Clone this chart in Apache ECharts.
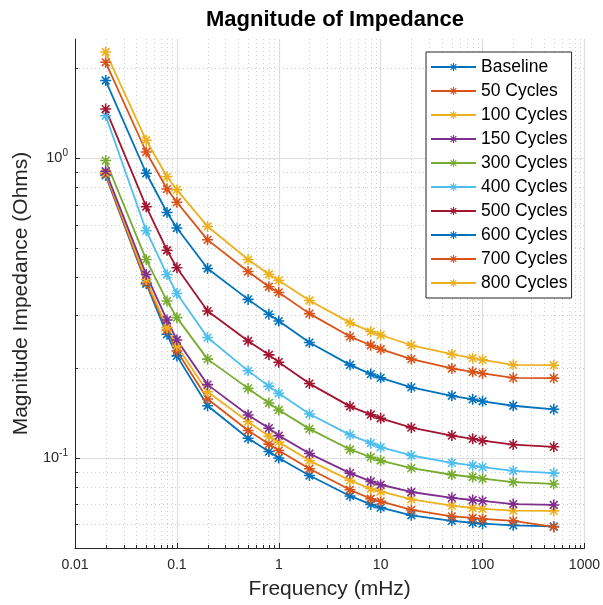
<!DOCTYPE html>
<html>
<head>
<meta charset="utf-8">
<script src="https://cdn.jsdelivr.net/npm/echarts@6/dist/echarts.min.js"></script>
<style>
html,body{margin:0;padding:0;background:#fff;}
#chart{width:603px;height:605px;}
</style>
</head>
<body>
<div id="chart"></div>
<script>
// ---- data ----
const freq = [0.02, 0.05, 0.08, 0.1, 0.2, 0.5, 0.8, 1, 2, 5, 8, 10, 20, 50, 80, 100, 200, 500];
const seriesNames = ['Baseline', '50 Cycles', '100 Cycles', '150 Cycles', '300 Cycles', '400 Cycles', '500 Cycles', '600 Cycles', '700 Cycles', '800 Cycles'];
const baseline  = [0.876, 0.381, 0.2584, 0.2189, 0.1492, 0.1162, 0.1049, 0.0998, 0.0873, 0.0746, 0.0699, 0.0682, 0.0643, 0.0616, 0.0607, 0.0603, 0.0595, 0.0590];
const cycles50  = [0.885, 0.385, 0.2671, 0.2274, 0.1571, 0.1233, 0.1111, 0.1057, 0.0919, 0.0782, 0.0730, 0.0716, 0.0670, 0.0638, 0.0630, 0.0625, 0.0616, 0.0588];
const cycles100 = [0.894, 0.394, 0.2720, 0.2363, 0.1661, 0.1320, 0.1181, 0.1128, 0.0979, 0.0841, 0.0788, 0.0772, 0.0727, 0.0692, 0.0680, 0.0675, 0.0666, 0.0665];
const cycles150 = [0.905, 0.409, 0.2884, 0.2474, 0.1755, 0.1390, 0.1256, 0.1186, 0.1033, 0.0889, 0.0834, 0.0813, 0.0769, 0.0735, 0.0723, 0.0718, 0.0701, 0.0696];
const cycles300 = [0.982, 0.459, 0.3336, 0.2937, 0.2135, 0.1705, 0.1524, 0.1444, 0.1249, 0.1066, 0.1005, 0.0979, 0.0924, 0.0878, 0.0863, 0.0852, 0.0830, 0.0818];
const cycles400 = [1.386, 0.573, 0.409, 0.3538, 0.2520, 0.1951, 0.1735, 0.1641, 0.1400, 0.1193, 0.1119, 0.1085, 0.1018, 0.0962, 0.0943, 0.0931, 0.0905, 0.0889];
const cycles500 = [1.459, 0.689, 0.493, 0.4306, 0.3090, 0.2455, 0.2206, 0.2086, 0.1769, 0.1485, 0.1393, 0.1355, 0.1261, 0.1186, 0.1157, 0.1141, 0.1107, 0.1088];
const cycles600 = [1.817, 0.891, 0.659, 0.585, 0.4284, 0.3379, 0.3012, 0.2861, 0.2425, 0.2043, 0.1903, 0.1849, 0.1718, 0.1611, 0.1567, 0.1544, 0.1492, 0.1452];
const cycles700 = [2.090, 1.049, 0.789, 0.713, 0.534, 0.4185, 0.3724, 0.3565, 0.3029, 0.2539, 0.2375, 0.2304, 0.2135, 0.1987, 0.1936, 0.1913, 0.1849, 0.1845];
const cycles800 = [2.262, 1.148, 0.867, 0.784, 0.592, 0.459, 0.410, 0.391, 0.335, 0.2826, 0.2638, 0.2570, 0.2375, 0.2218, 0.2151, 0.2123, 0.2043, 0.2038];

const xTickValues = [0.01, 0.1, 1, 10, 100, 1000];
const xTickLabels = ['0.01', '0.1', '1', '10', '100', '1000'];
const yTickValues = [0.1, 1];
const yTickExponents = ['-1', '0'];
const xMinorValues = [0.02,0.03,0.04,0.05,0.06,0.07,0.08,0.09, 0.2,0.3,0.4,0.5,0.6,0.7,0.8,0.9, 2,3,4,5,6,7,8,9, 20,30,40,50,60,70,80,90, 200,300,400,500,600,700,800,900];
const yMinorValues = [0.06,0.07,0.08,0.09, 0.2,0.3,0.4,0.5,0.6,0.7,0.8,0.9, 2];

// ---- styling ----
const allValues = [baseline, cycles50, cycles100, cycles150, cycles300, cycles400, cycles500, cycles600, cycles700, cycles800];
const colors = ['#0072BD', '#D95319', '#EDB120', '#7E2F8E', '#77AC30', '#4DBEEE', '#A2142F', '#0072BD', '#D95319', '#EDB120'];
const asterisk = 'path://M0 4.3L10 4.3L10 5.7L0 5.7Z M4.3 0L5.7 0L5.7 10L4.3 10Z M1 2L2 1L9 8L8 9Z M8 1L9 2L2 9L1 8Z';
const axisColor = '#262626';
const majorGrid = '#dedede';
const minorGrid = '#cdcdcd';

const lineSeries = seriesNames.map((name, k) => ({
  name: name,
  type: 'line',
  data: freq.map((f, i) => [f, allValues[k][i]]),
  symbol: asterisk,
  symbolSize: 11,
  showSymbol: true,
  lineStyle: { width: 1.8, color: colors[k] },
  itemStyle: { color: colors[k] },
  z: 3
}));

// grid helper data: kind 0 = x minor, 1 = y minor, 2 = y major
const gridData = [];
xMinorValues.forEach(v => gridData.push([v, 1, 0]));
yMinorValues.forEach(v => gridData.push([1, v, 1]));
yTickValues.forEach(v => gridData.push([1, v, 2]));

function r(v) { return Math.round(v) + 0.5; }

function renderGrid(params, api) {
  const cs = params.coordSys;
  const kind = api.value(2);
  const p = api.coord([api.value(0), api.value(1)]);
  const left = cs.x, right = cs.x + cs.width, top = cs.y, bottom = cs.y + cs.height;
  const children = [];
  if (kind === 0) {
    const x = r(p[0]);
    children.push({ type: 'line', shape: { x1: x, y1: top, x2: x, y2: bottom }, style: { stroke: minorGrid, lineWidth: 1, lineDash: [1, 3] } });
    children.push({ type: 'line', shape: { x1: x, y1: bottom, x2: x, y2: bottom - 3 }, style: { stroke: axisColor, lineWidth: 1 } });
  } else if (kind === 1) {
    const y = r(p[1]);
    children.push({ type: 'line', shape: { x1: left, y1: y, x2: right, y2: y }, style: { stroke: minorGrid, lineWidth: 1, lineDash: [1, 3] } });
    children.push({ type: 'line', shape: { x1: left, y1: y, x2: left + 3, y2: y }, style: { stroke: axisColor, lineWidth: 1 } });
  } else {
    const y = r(p[1]);
    children.push({ type: 'line', shape: { x1: left, y1: y, x2: right, y2: y }, style: { stroke: majorGrid, lineWidth: 1.2 } });
    children.push({ type: 'line', shape: { x1: left, y1: y, x2: left + 5, y2: y }, style: { stroke: axisColor, lineWidth: 1 } });
  }
  return { type: 'group', children: children };
}

const chart = echarts.init(document.getElementById('chart'), null, { renderer: 'canvas' });
const fontFamily = '"Liberation Sans", Arial, Helvetica, sans-serif';

chart.setOption({
  animation: false,
  backgroundColor: '#ffffff',
  textStyle: { fontFamily: fontFamily },
  title: {
    text: 'Magnitude of Impedance',
    left: 330,
    textAlign: 'center',
    top: 4,
    textStyle: { fontSize: 22, fontWeight: 'bold', color: '#000', fontFamily: fontFamily }
  },
  grid: { left: 75, right: 17, top: 39, bottom: 56, containLabel: false },
  legend: {
    data: seriesNames,
    orient: 'vertical',
    left: 426,
    top: 52,
    itemWidth: 45,
    itemHeight: 10,
    itemGap: 6,
    padding: [6, 4, 6, 4],
    backgroundColor: '#ffffff',
    borderColor: axisColor,
    borderWidth: 1,
    borderRadius: 0,
    textStyle: { fontSize: 17.5, color: '#000', fontFamily: fontFamily }
  },
  xAxis: {
    type: 'log',
    logBase: 10,
    min: 0.01,
    max: 1000,
    name: 'Frequency (mHz)',
    nameLocation: 'middle',
    nameGap: 31,
    nameTextStyle: { fontSize: 21, color: axisColor, fontFamily: fontFamily },
    axisLine: { show: true, lineStyle: { color: axisColor, width: 1 } },
    axisTick: { show: true, inside: true, length: 5, lineStyle: { color: axisColor } },
    axisLabel: {
      fontSize: 14,
      color: axisColor,
      margin: 10,
      formatter: function (v) {
        for (let i = 0; i < xTickValues.length; i++) {
          if (Math.abs(Math.log10(v) - Math.log10(xTickValues[i])) < 1e-6) return xTickLabels[i];
        }
        return '';
      }
    },
    splitLine: { show: true, lineStyle: { color: majorGrid, width: 1.2 } }
  },
  yAxis: {
    type: 'log',
    logBase: 10,
    min: 0.05,
    max: 2.5,
    name: 'Magnitude Impedance (Ohms)',
    nameLocation: 'middle',
    nameGap: 37,
    nameTextStyle: { fontSize: 21, color: axisColor, fontFamily: fontFamily },
    axisLine: { show: true, lineStyle: { color: axisColor, width: 1 } },
    axisTick: { show: false },
    splitLine: { show: false },
    axisLabel: {
      margin: 7,
      color: axisColor,
      formatter: function (v) {
        for (let i = 0; i < yTickValues.length; i++) {
          if (Math.abs(Math.log10(v) - Math.log10(yTickValues[i])) < 1e-6) return '{b|10}{s|' + yTickExponents[i] + '}';
        }
        return '';
      },
      rich: {
        b: { fontSize: 14.5, lineHeight: 20, color: axisColor, fontFamily: fontFamily },
        s: { fontSize: 10, lineHeight: 10, verticalAlign: 'top', color: axisColor, fontFamily: fontFamily }
      }
    }
  },
  series: [{
    type: 'custom',
    name: '__grid',
    silent: true,
    clip: false,
    z: 1,
    renderItem: renderGrid,
    encode: { x: 0, y: 1 },
    data: gridData
  }].concat(lineSeries)
});
</script>
</body>
</html>
